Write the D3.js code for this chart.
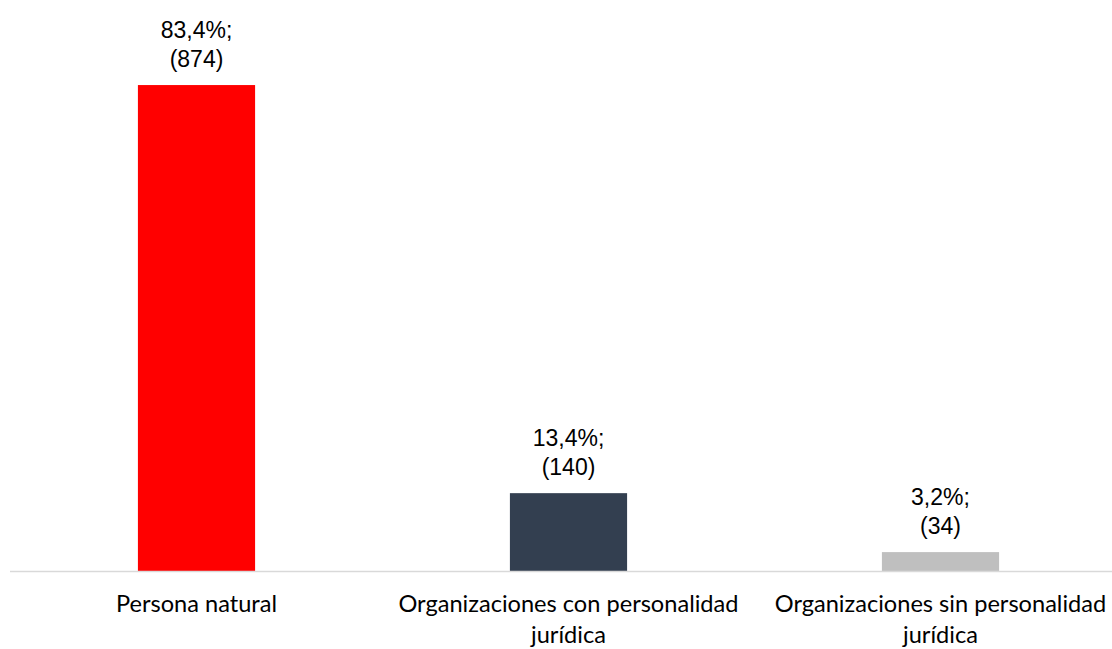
<!DOCTYPE html>
<html><head><meta charset="utf-8">
<script src="https://cdn.jsdelivr.net/npm/d3@7"></script>
<style>body{margin:0;background:#fff}svg{display:block}</style>
</head><body>
<svg id="c" width="1112" height="649"></svg>
<script>
const categories = [["Persona natural"], ["Organizaciones con personalidad", "jurídica"], ["Organizaciones sin personalidad", "jurídica"]];
const counts = [874, 140, 34];
const percentLabels = ["83,4%;", "13,4%;", "3,2%;"];
const colors = ["#ff0000", "#333f50", "#bfbfbf"];

const svg = d3.select("#c");
const x = d3.scaleBand().domain(d3.range(categories.length)).range([10.5, 1126.5]).paddingInner(0.685).paddingOuter(0.3425);
const y = d3.scaleLinear().domain([0, 1000]).range([571, 15]);

svg.selectAll("rect.bar").data(counts).join("rect")
  .attr("x", (d,i) => x(i)).attr("width", x.bandwidth())
  .attr("y", d => y(d)).attr("height", d => y(0) - y(d))
  .attr("fill", (d,i) => colors[i]);

svg.append("line").attr("x1", 10).attr("x2", 1112).attr("y1", 571.5).attr("y2", 571.5)
  .attr("stroke", "#d9d9d9").attr("stroke-width", 1.5);

const cx = i => x(i) + x.bandwidth()/2;
const lab = svg.selectAll("g.lab").data(counts).join("g");
lab.append("text").attr("x", (d,i)=>cx(i)).attr("y", d => y(d) - 47)
  .attr("text-anchor","middle").attr("font-family","Liberation Sans, Arial, sans-serif").attr("font-size", 23).attr("fill","#000")
  .text((d,i)=>percentLabels[i]);
lab.append("text").attr("x", (d,i)=>cx(i)).attr("y", d => y(d) - 18)
  .attr("text-anchor","middle").attr("font-family","Liberation Sans, Arial, sans-serif").attr("font-size", 23).attr("fill","#000")
  .text(d=>"(" + d + ")");

const cat = svg.selectAll("text.cat").data(categories).join("text")
  .attr("class","cat").attr("text-anchor","middle")
  .attr("font-family","Lato, sans-serif").attr("font-size", 23.6).attr("fill","#000");
cat.each(function(lines, i){
  d3.select(this).selectAll("tspan").data(lines).join("tspan")
    .attr("x", cx(i)).attr("y", (l,j) => 612 + j*31).text(l=>l);
});
</script>
</body></html>
